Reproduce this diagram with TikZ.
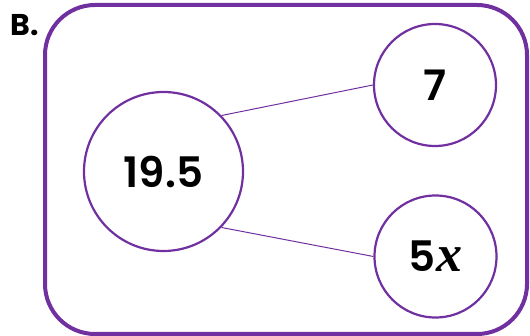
\documentclass[tikz,border=0pt]{standalone}
\usepackage{fontspec}
\setmainfont{Poppins}[BoldFont={Poppins SemiBold}]
\newfontfamily\heavy{Poppins Bold}
\newfontfamily\serifx{Liberation Serif}
\definecolor{ringpurple}{RGB}{112,48,160}
\begin{document}
\begin{tikzpicture}[x=1pt,y=-1pt,
  ring/.style={circle,draw=ringpurple,line width=2.2pt,inner sep=0pt,font=\fontsize{42}{42}\selectfont\bfseries},
  link/.style={draw=ringpurple,line width=1pt}]
\useasboundingbox (0,0) rectangle (530,336);
\draw[ringpurple,line width=4pt,rounded corners=50pt] (45,5) rectangle (527,334);
\node[font=\fontsize{30}{30}\selectfont\heavy,anchor=base west] (lbl) at (7,36) {B.};
\node[ring,minimum size=159pt] (big) at (163.5,171.5) {19.5};
\node[ring,minimum size=122pt] (seven) at (435,85) {7};
\node[ring,minimum size=122pt] (fivex) at (435.5,256.5) {5{\serifx\fontsize{52}{52}\selectfont\bfseries\itshape x}};
\draw[link] (big.44) -- (seven.west);
\draw[link] (big.-44) -- (fivex.west);
\end{tikzpicture}
\end{document}
